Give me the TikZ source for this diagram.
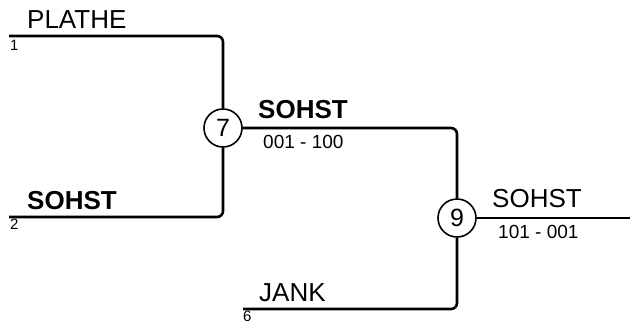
\documentclass[tikz,border=0pt]{standalone}
\usepackage{fontspec}
\setmainfont{Liberation Sans}
\begin{document}
\begin{tikzpicture}[x=1pt,y=1pt]
\tikzset{
  team/.style={inner sep=0pt,anchor=base west,font=\fontsize{26}{30}\selectfont},
  seed/.style={inner sep=0pt,anchor=base west,font=\fontsize{15}{17}\selectfont},
  score/.style={inner sep=0pt,anchor=base west,font=\fontsize{19}{22}\selectfont},
  match/.style={draw,circle,line width=1.6pt,minimum size=38pt,inner sep=0pt,font=\fontsize{25}{27}\selectfont},
  bracket/.style={line width=2.6pt,rounded corners=6pt}
}
\useasboundingbox (0,0) rectangle (630,-324);
% matches
\node[match] (m7) at (223,-128) {7};
\node[match] (m9) at (457,-218) {9};
% line ends
\coordinate (e1) at (9,-36);
\coordinate (e2) at (9,-217);
\coordinate (e6) at (243,-309);
\coordinate (out) at (630,-218);
\coordinate (c79) at (457,-128);
% lines
\draw[bracket] (e1) -| (m7);
\draw[bracket] (e2) -| (m7);
\draw[bracket] (m7) -- (c79) -- (m9);
\draw[bracket] (e6) -| (m9);
\draw[bracket] (m9) -- (out);
% texts
\node[team] (t1) at (27,-28) {PLATHE};
\node[seed] (s1) at (10,-50) {1};
\node[team] (t2) at (27,-209) {\bfseries SOHST};
\node[seed] (s2) at (10,-229) {2};
\node[team] (t7) at (258,-118) {\bfseries SOHST};
\node[score] (r7) at (263,-148) {001 - 100};
\node[team] (t6) at (259,-301) {JANK};
\node[seed] (s6) at (243,-321) {6};
\node[team] (t9) at (492,-207) {SOHST};
\node[score] (r9) at (498,-238) {101 - 001};
\end{tikzpicture}
\end{document}
